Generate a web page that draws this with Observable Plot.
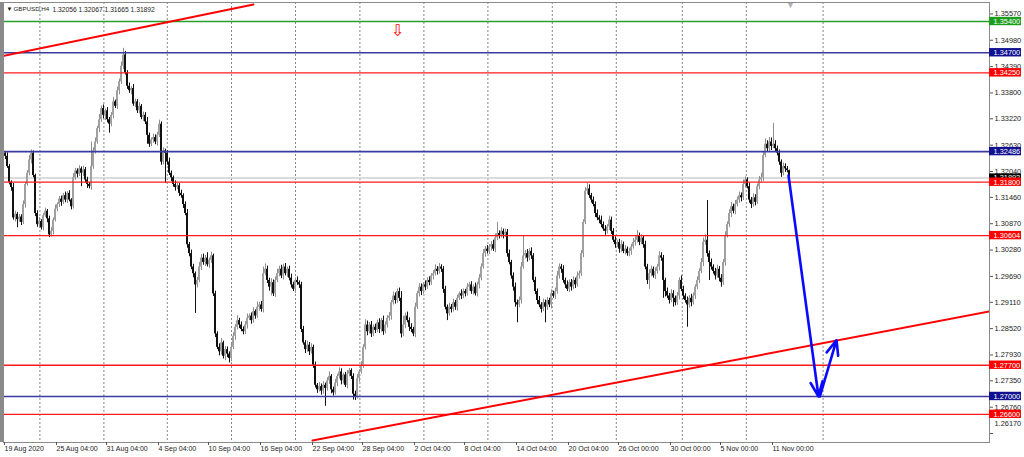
<!DOCTYPE html>
<html><head><meta charset="utf-8">
<script src="https://cdn.jsdelivr.net/npm/d3@7"></script>
<script src="https://cdn.jsdelivr.net/npm/@observablehq/plot@0.6"></script>
<style>html,body{margin:0;padding:0;background:#fff;overflow:hidden}svg{display:block}</style>
</head><body><div id="chart"></div>
<script>
// ---------- data (prices in pips = price * 10000) ----------
const symbol = "GBPUSD,H4";
const lastOHLC = [1.32056, 1.32067, 1.31665, 1.31892];
const firstOpen = 13252;
const closes = [
13245,13238,13215,13180,13168,13100,13108,13096,13102,13090,
13130,13175,13200,13230,13245,13195,13110,13085,13092,13078,
13105,13115,13098,13062,13070,13095,13120,13130,13142,13135,
13150,13140,13155,13140,13125,13190,13205,13198,13210,13200,
13208,13185,13175,13170,13215,13250,13270,13300,13320,13345,
13330,13340,13320,13310,13330,13360,13350,13385,13405,13440,
13465,13425,13395,13385,13390,13355,13360,13340,13350,13325,
13330,13315,13285,13265,13275,13280,13270,13285,13310,13225,
13250,13245,13225,13200,13190,13175,13168,13172,13155,13150,
13130,13110,13040,13020,12990,12975,12950,12960,12990,13010,
13000,13010,12995,13005,13015,12930,12840,12810,12800,12820,
12790,12805,12795,12785,12810,12835,12855,12870,12860,12850,
12845,12860,12875,12880,12870,12890,12880,12900,12905,12895,
12975,12985,12960,12945,12955,12930,12960,12975,12985,12970,
12990,12975,12985,12965,12950,12940,12960,12955,12950,12850,
12820,12805,12815,12800,12810,12770,12725,12715,12722,12712,
12725,12718,12735,12745,12715,12708,12730,12745,12755,12735,
12748,12725,12750,12758,12745,12705,12700,12740,12755,12770,
12810,12860,12845,12860,12840,12855,12848,12865,12850,12870,
12845,12860,12875,12880,12910,12925,12915,12935,12920,12840,
12860,12880,12870,12855,12850,12840,12900,12930,12945,12935,
12950,12945,12960,12955,12970,12975,12985,12980,12990,12985,
12940,12900,12885,12900,12895,12910,12900,12920,12930,12925,
12935,12930,12945,12950,12935,12945,12930,12950,12965,12990,
13020,13030,13025,13035,13040,13030,13055,13065,13060,13070,
13062,13068,13020,13000,12970,12945,12910,12905,12915,12990,
13015,13020,13010,13025,13015,12960,12935,12915,12905,12895,
12910,12900,12915,12905,12930,12925,12935,12970,12990,12985,
12960,12950,12940,12955,12945,12960,12950,12970,12975,13020,
13090,13160,13165,13150,13140,13130,13110,13100,13095,13085,
13075,13070,13080,13095,13070,13050,13040,13045,13030,13040,
13025,13030,13020,13025,13035,13045,13050,13060,13045,13055,
13040,12990,12960,12975,12985,12970,12980,12990,13015,13010,
12960,12935,12925,12915,12930,12920,12910,12925,12960,12940,
12925,12915,12905,12920,12910,12925,12945,12960,12980,13000,
13045,13050,13020,13000,12990,12980,12970,12985,12965,12955,
13000,13060,13085,13110,13125,13115,13130,13140,13150,13145,
13175,13185,13170,13140,13130,13145,13135,13170,13185,13190,
13240,13265,13255,13270,13260,13265,13255,13245,13225,13200,
13215,13210,13206,13189];
const upperWick = [
6,4,8,5,3,9,7,4,6,5,8,4,6,10,7,5,3,6,9,4,
5,7,4,6,8,5,9,4,6,7,5,8,4,6,3,9,6,5,7,4,
8,5,6,4,55,7,9,5,12,6,8,4,7,5,6,10,4,8,6,9,
15,8,5,7,4,9,6,5,8,4,7,6,10,5,4,8,6,7,9,5,
7,4,6,9,5,4,8,6,5,7,4,6,9,5,8,6,4,7,10,8,
9,6,12,5,8,4,6,5,8,10,4,7,6,5,9,8,6,11,5,7,
6,8,10,5,7,9,4,12,6,8,15,12,7,5,9,6,8,10,7,9,
6,8,5,7,9,6,5,8,4,6,7,5,9,6,8,5,7,4,9,6,
8,5,7,10,4,6,8,5,9,7,4,6,8,5,4,6,7,9,5,8,
6,12,9,6,8,5,7,6,9,5,10,7,6,8,5,9,7,6,8,15,
20,7,9,6,8,5,9,6,8,7,5,9,6,8,5,7,10,6,8,5,
6,7,5,9,6,8,5,7,4,9,6,5,8,6,7,5,9,6,8,7,
9,6,8,5,7,10,9,25,6,8,5,7,6,8,5,7,9,6,8,10,
45,7,9,6,8,5,7,6,9,5,8,6,7,5,9,6,8,10,7,6,
8,5,9,6,7,8,5,9,6,7,6,8,12,9,5,7,6,8,5,9,
6,8,5,9,7,6,8,5,7,9,6,8,5,7,6,9,8,12,6,7,
5,8,6,9,7,5,8,6,10,7,6,5,8,6,9,7,5,8,6,10,
7,5,8,6,9,7,5,8,6,9,10,12,89,6,8,5,7,9,6,8,
7,9,6,8,10,6,9,7,8,6,10,7,5,8,6,9,7,6,8,10,
9,12,8,10,9,47,8,6,7,5,8,6,5,1];
const lowerWick = [
5,7,4,6,8,5,9,18,6,7,5,8,4,6,9,5,7,6,8,5,
7,4,9,6,5,8,4,6,7,9,5,6,8,4,7,5,6,8,5,30,
7,6,9,5,8,6,7,5,9,6,8,12,7,20,6,8,5,7,9,6,
8,5,7,6,9,5,8,6,7,5,9,6,20,7,5,8,6,9,5,7,
6,68,7,5,9,6,8,5,7,6,9,5,8,7,6,9,64,7,5,8,
6,9,5,8,7,6,8,5,9,7,6,10,8,10,7,5,9,6,8,5,
7,6,9,5,8,6,7,5,9,6,8,5,7,9,20,6,8,5,7,6,
9,5,8,6,7,5,9,6,8,7,5,9,6,8,5,7,6,8,5,9,
7,40,6,8,9,7,5,8,6,9,7,5,8,6,7,13,9,6,8,5,
7,6,9,5,8,6,7,5,9,6,8,5,7,6,9,5,8,6,7,9,
6,8,5,9,7,6,8,5,7,9,6,8,5,7,6,9,5,8,6,7,
9,6,15,5,8,6,7,9,5,8,6,7,5,9,6,8,5,7,9,6,
5,8,6,7,9,5,8,6,7,5,9,6,8,5,7,9,10,40,6,8,
5,7,9,6,8,5,7,9,6,8,5,35,7,6,9,5,8,6,7,9,
6,8,5,7,9,6,8,5,7,6,9,5,8,6,7,5,9,6,8,7,
5,9,6,8,7,5,8,6,9,7,5,8,6,7,9,5,8,6,7,5,
8,6,9,20,7,5,8,6,9,7,40,12,6,8,5,20,7,6,9,5,
8,6,50,7,9,5,8,6,7,5,9,6,8,40,7,6,9,5,8,10,
6,8,5,7,9,6,8,5,7,9,6,8,5,7,9,6,8,5,7,6,
8,5,7,6,9,5,8,6,7,9,6,8,5,23];

const yTicks = [1.35570,1.34980,1.34390,1.33800,1.33220,1.32630,1.32040,1.31460,1.30870,1.30280,1.29690,1.29110,1.28520,1.27930,1.27350,1.26760,1.26170];
const xTickBars = [0,26,51,77,102,128,154,179,205,230,256,282,307,333,358,384];
const xTickLabels = ["19 Aug 2020","25 Aug 04:00","31 Aug 04:00","4 Sep 04:00","10 Sep 04:00","16 Sep 04:00","22 Sep 04:00","28 Sep 04:00","2 Oct 04:00","8 Oct 04:00","14 Oct 04:00","20 Oct 04:00","26 Oct 00:00","30 Oct 00:00","5 Nov 00:00","11 Nov 00:00"];
const gridBars = [18.2,50.2,81.9,114,146,178.2,210.2,242.2,274.4,306.4,339.4,371.4,409.8];
const levels = [1.35400,1.34700,1.34250,1.32486,1.31800,1.30604,1.27700,1.27000,1.26600];
const levelKinds = ["target","major","minor","major","minor","minor","minor","major","minor"];
const upTrendBars = [-1.5,125], upTrendPrices = [1.34616,1.35781];
const lowTrendBars = [154.5,493], lowTrendPrices = [1.26014,1.28904];
const forecastBars = [392.5,407.5,416.5];
const forecastPrices = [1.3195,1.2700,1.2826];
const signalBar = 197, signalPrice = 1.3518;
const shiftBar = 393.5;

// ---------- build ----------
const bars = closes.map((c,i)=>{
  const o = i===0 ? firstOpen : closes[i-1];
  return {i, open:o/1e4, close:c/1e4,
    high:(Math.max(o,c)+upperWick[i])/1e4, low:(Math.min(o,c)-lowerWick[i])/1e4, up:c>=o};
});
const kindColor = {target:"#1e9e1e", major:"#101090", minor:"#ff0000"};
const lineColor = {target:"#2aa02a", major:"#3a3aa0", minor:"#ff1a1a"};
const levelData = levels.map((p,i)=>({p, kind:levelKinds[i]}));
const xMax = 493, yMin = 1.25969, yMax = 1.35826;
const pxPerUnit = 440/(yMax-yMin);
const boxH = 4.2/pxPerUnit;
const trend = (b,p)=>b.map((x,k)=>({x, y:p[k]}));
const arrows = [
  {x1:forecastBars[0], y1:forecastPrices[0], x2:forecastBars[1], y2:forecastPrices[1]},
  {x1:forecastBars[1]+0.7, y1:forecastPrices[1], x2:forecastBars[2], y2:forecastPrices[2]}
];
const lastPrice = lastOHLC[3];
const labelMap = new Map(xTickBars.map((b,k)=>[b, xTickLabels[k]]));
const font = "Liberation Sans, Arial, sans-serif";

const chart = Plot.plot({
  width:1024, height:457,
  marginLeft:3, marginRight:35, marginTop:2, marginBottom:15,
  style:{background:"#fff", fontFamily:font, fontSize:"7px", color:"#222"},
  x:{domain:[0,xMax]},
  y:{domain:[yMin,yMax]},
  marks:[
    Plot.ruleX(gridBars, {stroke:"#7a7a7a", strokeDasharray:"2,2", strokeWidth:0.9}),
    Plot.ruleY([lastPrice], {stroke:"#cfcfcf", strokeWidth:1.5}),
    Plot.ruleX(bars, {x:"i", y1:"low", y2:"high", stroke:d=>d.up?"#8e8e8e":"#111", strokeWidth:1}),
    Plot.rect(bars, {x1:d=>d.i-0.5, x2:d=>d.i+0.5, y1:d=>Math.min(d.open,d.close), y2:d=>Math.max(d.open,d.close), fill:d=>d.up?"#a0a0a0":"#111"}),
    Plot.ruleY(levelData.filter(d=>d.kind!=="major"), {y:"p", stroke:d=>lineColor[d.kind], strokeWidth:1.3}),
    Plot.ruleY(levelData.filter(d=>d.kind==="major"), {y:"p", stroke:d=>lineColor[d.kind], strokeWidth:1.7}),
    Plot.line(trend(upTrendBars, upTrendPrices), {x:"x", y:"y", stroke:"#ff0000", strokeWidth:2, clip:true}),
    Plot.line(trend(lowTrendBars, lowTrendPrices), {x:"x", y:"y", stroke:"#ff0000", strokeWidth:2, clip:true}),
    Plot.arrow(arrows, {x1:"x1", y1:"y1", x2:"x2", y2:"y2", stroke:"#0a0aff", strokeWidth:2.6, headLength:9, headAngle:45}),
    Plot.text([signalPrice], {x:()=>signalBar, y:d=>d, text:()=>"⇩", fill:"#ff0000", fontSize:16, fontFamily:"DejaVu Sans"}),
    Plot.text([shiftBar], {x:d=>d, frameAnchor:"top", text:()=>"▼", fill:"#b0b0b0", fontSize:9, dy:-1, lineAnchor:"top"}),
    Plot.frame({stroke:"#8a8a8a"}),
    Plot.ruleX([-1], {stroke:"#8a8a8a", strokeWidth:3}),
    Plot.axisY(yTicks, {anchor:"right", tickSize:3, tickPadding:2, fontSize:7.4, stroke:"#555",
      tickFormat:d=>d===yTicks[yTicks.length-1] ? "" : d.toFixed(5)}),
    Plot.text([yTicks[yTicks.length-1]], {y:d=>d, frameAnchor:"right", text:d=>d.toFixed(5), dx:5, dy:-10, textAnchor:"start", fontSize:7.4, fill:"#222"}),
    Plot.axisX(xTickBars, {anchor:"bottom", tickSize:3, tickPadding:1, textAnchor:"start", dx:1, fontSize:7, stroke:"#555",
      tickFormat:d=>labelMap.get(d)}),
    // price label boxes
    Plot.rect([lastPrice], {x1:()=>xMax, x2:()=>xMax+16, y1:d=>d-boxH, y2:d=>d+boxH, fill:"#000"}),
    Plot.text([lastPrice], {x:()=>xMax, y:d=>d, text:d=>d.toFixed(5), dx:4, textAnchor:"start", fill:"#fff", fontSize:7.4}),
    Plot.rect(levelData, {x1:()=>xMax, x2:()=>xMax+16, y1:d=>d.p-boxH, y2:d=>d.p+boxH, fill:d=>kindColor[d.kind]}),
    Plot.text(levelData, {x:()=>xMax, y:"p", text:d=>d.p.toFixed(5), dx:4, textAnchor:"start", fill:"#fff", fontSize:7.4}),
    // header
    Plot.text(["▼"], {frameAnchor:"top-left", dx:3, dy:7, lineAnchor:"middle", fontSize:6, fill:"#111"}),
    Plot.text([symbol], {frameAnchor:"top-left", dx:10, dy:7, lineAnchor:"middle", fontSize:6.2, fill:"#222"}),
    Plot.text([lastOHLC.map(v=>v.toFixed(5)).join(" ")], {frameAnchor:"top-left", dx:49, dy:7, lineAnchor:"middle", fontSize:6.7, fill:"#222"})
  ]
});
document.getElementById("chart").append(chart);
</script>
</body></html>
